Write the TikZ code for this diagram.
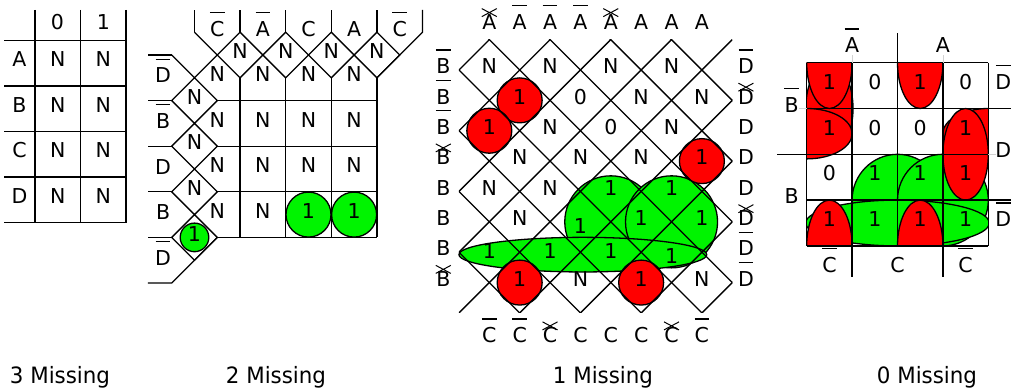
\documentclass[tikz,border=0pt]{standalone}
\usepackage{fontspec}
\setmainfont{DejaVu Sans}
\newfontfamily\capfont[FakeStretch=0.95]{DejaVu Sans}
\usepackage{graphicx}
\definecolor{grp}{HTML}{00F400}
\definecolor{pair}{HTML}{FF0000}
% letter with a bar on top
\newcommand{\nbar}[1]{\ooalign{#1\cr\hidewidth\rule[1.12em]{0.72em}{0.065em}\hidewidth\cr}}
\tikzset{
  lbl/.style={inner sep=0pt, text height=0.73em, text depth=0pt},
  one/.style={draw, fill=grp},
  two/.style={draw, fill=pair},
  xmark/.style={line width=1pt},
  faint/.style={gray!35, line width=0.7pt}
}

\begin{document}
\begin{tikzpicture}[x=1pt, y=-1pt, line width=1.3pt, font=\fontsize{20.5}{24}\selectfont]
\useasboundingbox (0,0) rectangle (1011,390);

% ---------- 3 missing: plain table
\foreach \x in {35,80.5,126} \draw (\x,10) -- (\x,222.7);
\foreach \y in {40.7,86,131.5,177,222.7} \draw (4,\y) -- (126,\y);
\node[lbl] (h0) at (57.5,26) {0};
\node[lbl] (h1) at (103.5,26) {1};
\foreach \r/\v in {A/63.3,B/108.8,C/154.3,D/199.8} {
  \node[lbl] (row\r) at (19.5,\v) {\r};
  \node[lbl] (n\r0) at (57.8,\v) {N};
  \node[lbl] (n\r1) at (103.3,\v) {N};
}

% ---------- 2 missing: square cells with diamonds on the edges
\begin{scope}[shift={(194.5,55)}, x=45.6pt, y=-45.6pt]
  \foreach \k in {1,...,4} {
    \draw (\k-0.5,0) -- (\k,-0.5) -- (\k+0.5,0) -- (\k,0.5) -- cycle;
    \draw (0,\k-0.5) -- (-0.5,\k) -- (0,\k+0.5) -- (0.5,\k) -- cycle;
    \draw (\k,0.5) -- (\k,4);
    \draw (0.5,\k) -- (4,\k);
  }
  % open corner
  \draw (-0.5,0) -- (0,0.5) -- (0.5,0) -- (0,-0.5);
  % stubs between the labels
  \foreach \k in {0,...,4} {
    \draw (\k,-0.5) -- (\k,-0.987);
    \draw (-0.5,\k) -- (-1.02,\k);
  }
  \draw (4,0.5) -- (5,-0.5) -- (5,-0.987);
  \draw (0.5,4) -- (-0.5,5) -- (-1.02,5);
  % cell values
  \foreach \r in {0,1,2} \foreach \c in {0,...,3}
    \node[lbl] (s\r\c) at (\c+0.5,\r+0.5) {N};
  \node[lbl] (s30) at (0.5,3.5) {N};
  \node[lbl] (s31) at (1.5,3.5) {N};
  \node[one, circle, lbl, minimum size=45pt] (s32) at (2.5,3.5) {1};
  \node[one, circle, lbl, minimum size=45pt] (s33) at (3.5,3.5) {1};
  \foreach \k in {1,...,4} \node[lbl] (dt\k) at (\k,0) {N};
  \foreach \k in {1,2,3} \node[lbl] (dl\k) at (0,\k) {N};
  \node[one, circle, lbl, minimum size=28.6pt] (dl4) at (0,4) {1};
  % labels
  \foreach \t [count=\i from 0] in {\nbar{C},\nbar{A},C,A,\nbar{C}}
    \node[lbl] (tc\i) at (\i+0.5,-0.493) {\t};
  \foreach \t [count=\i from 0] in {\nbar{D},\nbar{B},D,B,\nbar{D}}
    \node[lbl] (lr\i) at (-0.69,\i+0.53) {\t};
\end{scope}

% ---------- 1 missing: map turned by 45 degrees
\begin{scope}[shift={(489.3,70)}, x=30.37pt, y=-30.37pt]
  \draw[one] (4,5) circle[radius=1.515];
  \draw[one] (6,5) circle[radius=1.515];
  \node[lbl] (k0) at (3,5.27) {1};
  \draw[one] (3.08,6.08) ellipse[x radius=4.08, y radius=0.57];
  \foreach \u/\v in {1/1,0/2,7/3,1/7,5/7}
    \draw[two] (\u,\v) circle[radius=0.74];
  \begin{scope}
    \clip (-1,-1) rectangle (8,8);
    \foreach \k in {-1,1,...,15} \draw (\k+1,-1) -- (-1,\k+1);
    \foreach \k in {-7,-5,...,7} \draw (-1,-1-\k) -- (9,9-\k);
  \end{scope}
  \foreach \u/\v/\t [count=\i] in {0/0/N,2/0/N,4/0/N,6/0/N,
      1/1/1,3/1/0,5/1/N,7/1/N, 0/2/1,2/2/N,4/2/0,6/2/N,
      1/3/N,3/3/N,5/3/N,7/3/1, 0/4/N,2/4/N,4/4/1,6/4/1,
      1/5/N,5/5/1,7/5/1, 0/6.08/1,2/6.08/1,4/6.08/1,6/6.25/1,
      1/7/1,3/7/N,5/7/1,7/7/N}
    \node[lbl] (k\i) at (\u,\v) {\t};
  % labels
  \foreach \t [count=\i from 0] in {A,\nbar{A},\nbar{A},\nbar{A},A,A,A,A}
    \node[lbl] (tA\i) at (\i,-1.455) {\t};
  \foreach \t [count=\i from 0] in {\nbar{B},\nbar{B},\nbar{B},B,B,B,B,B}
    \node[lbl] (lB\i) at (-1.515,\i) {\t};
  \foreach \t [count=\i from 0] in {\nbar{D},D,D,D,D,D,\nbar{D},\nbar{D}}
    \node[lbl] (rD\i) at (8.45,\i) {\t};
  \foreach \t [count=\i from 0] in {\nbar{C},\nbar{C},C,C,C,C,C,\nbar{C}}
    \node[lbl] (bC\i) at (\i,8.86) {\t};
\end{scope}
% crossed bars
\foreach \n in {tA0,tA4,lB3,lB7,rD1,rD5,bC2,bC6}
  \draw[xmark] ([shift={(-7.5,-9.2)}]\n.center) -- ++(15,-8) ++(-15,0) -- ++(15,8);

% ---------- 0 missing: 4x4 map, groups wrap round the edges
\begin{scope}[shift={(806.7,62.7)}, x=45.4pt, y=-45.8pt]
  \begin{scope}
    \clip (0,0) rectangle (4,4);
    \draw[one] (2,3) circle[radius=1];
    \draw[one] (3,3) circle[radius=1];
    \draw[one] (2,3.5) ellipse[x radius=2.02, y radius=0.5];
    \draw[two] (0.5,1) ellipse[x radius=0.52, y radius=1];
    \foreach \c in {0.5,2.5} {
      \draw[two] (\c,0) ellipse[x radius=0.5, y radius=1];
      \draw[two] (\c,4) ellipse[x radius=0.5, y radius=1];
    }
    \draw[two] (0,1.55) ellipse[x radius=1, y radius=0.55];
    \draw[two] (4,1.55) ellipse[x radius=1, y radius=0.55];
    \draw[two] (3.5,2) ellipse[x radius=0.5, y radius=1];
  \end{scope}
  \foreach \k in {0,...,4} {
    \draw (\k,0) -- (\k,4);
    \draw (0,\k) -- (4,\k);
  }
  \draw (2,0) -- (2,-0.65);
  \draw (1,4) -- (1,4.67);
  \draw (3,4) -- (3,4.67);
  \draw (0,2) -- (-0.66,2);
  \draw (4,1) -- (4.5,1);
  \draw (4,3) -- (4.5,3);
  \draw[faint] (1,0) -- (1,-0.17);
  \draw[faint] (3,0) -- (3,-0.17);
  \draw[faint] (0,1) -- (-0.17,1);
  \draw[faint] (4,2) -- (4.17,2);
  \foreach \row [count=\r from 0] in {{1,0,1,0},{1,0,0,1},{0,1,1,1},{1,1,1,1}}
    \foreach \t [count=\c from 0] in \row
      \node[lbl] (z\r\c) at (\c+0.5,\r+0.5) {\t};
  \node[lbl] (zA0) at (1,-0.3) {\nbar{A}};
  \node[lbl] (zA1) at (3,-0.3) {A};
  \node[lbl] (zB0) at (-0.33,1) {\nbar{B}};
  \node[lbl] (zB1) at (-0.33,3) {B};
  \node[lbl] (zD0) at (4.33,0.5) {\nbar{D}};
  \node[lbl] (zD1) at (4.33,2) {D};
  \node[lbl] (zD2) at (4.33,3.5) {\nbar{D}};
  \node[lbl] (zC0) at (0.5,4.5) {\nbar{C}};
  \node[lbl] (zC1) at (2,4.5) {C};
  \node[lbl] (zC2) at (3.5,4.5) {\nbar{C}};
\end{scope}

% ---------- captions
\foreach \x/\t [count=\i] in {60/3,276/2,603/1,927/0}
  \node[font=\capfont\fontsize{22.5}{27}\selectfont] (cap\i) at (\x,377) {\t{} Missing};
\end{tikzpicture}
\end{document}
